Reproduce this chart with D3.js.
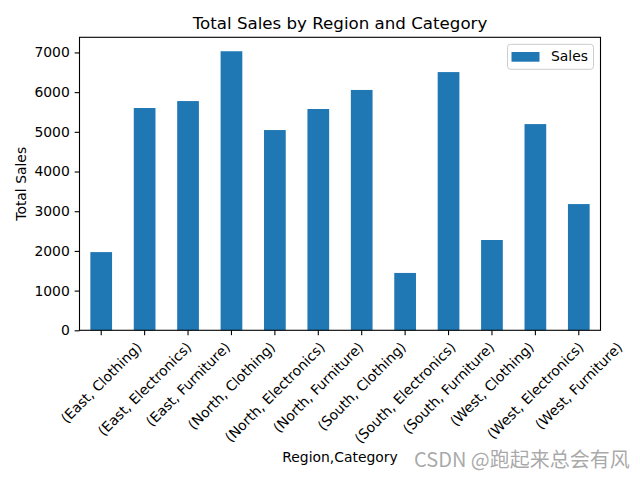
<!DOCTYPE html>
<html>
<head>
<meta charset="utf-8">
<script src="https://cdn.jsdelivr.net/npm/d3@7"></script>
<style>
	body { margin: 0; background: #fff; }
	svg { display: block; }
</style>
</head>
<body>
<script>
var regions = ["East", "East", "East", "North", "North", "North", "South", "South", "South", "West", "West", "West"];
var categories = ["Clothing", "Electronics", "Furniture", "Clothing", "Electronics", "Furniture", "Clothing", "Electronics", "Furniture", "Clothing", "Electronics", "Furniture"];
var sales = [1970, 5600, 5775, 7030, 5045, 5575, 6055, 1445, 6505, 2275, 5195, 3180];
var yTicks = [0, 1000, 2000, 3000, 4000, 5000, 6000, 7000];

var width = 640,
	height = 480,
	axLeft = 79.5,
	axRight = 600.5,
	axTop = 37.3,
	axBottom = 330.3,
	font = "DejaVu Sans, sans-serif",
	tickFont = 13.9,
	tickLen = 4.86,
	tickPad = 4.86,
	barColor = "#1f77b4";

var labels = regions.map(function (r, i) { return "(" + r + ", " + categories[i] + ")"; });

var svg = d3.select("body").append("svg")
	.attr("width", width)
	.attr("height", height)
	.attr("font-family", font);

var x = d3.scaleBand()
	.domain(labels)
	.range([axLeft, axRight])
	.paddingInner(0.5)
	.paddingOuter(0.25);

var y = d3.scaleLinear()
	.domain([0, d3.max(sales) * 1.05])
	.range([axBottom, axTop]);

// bars
svg.append("g")
	.selectAll("rect")
	.data(sales)
	.enter()
	.append("rect")
	.attr("x", function (d, i) { return x(labels[i]); })
	.attr("y", function (d) { return y(d); })
	.attr("width", x.bandwidth())
	.attr("height", function (d) { return axBottom - y(d); })
	.attr("fill", barColor);

// y axis
var yAxis = svg.append("g")
	.attr("transform", "translate(" + axLeft + ",0)")
	.call(d3.axisLeft(y).tickValues(yTicks).tickSize(tickLen).tickPadding(tickPad).tickFormat(d3.format("d")));
yAxis.select(".domain").remove();
yAxis.selectAll("line").attr("stroke", "#000").attr("stroke-width", 1.1);
yAxis.selectAll("text")
	.attr("font-family", font)
	.attr("font-size", tickFont)
	.attr("fill", "#000");

// x axis
var xAxis = svg.append("g")
	.attr("transform", "translate(0," + axBottom + ")")
	.call(d3.axisBottom(x).tickSize(tickLen).tickFormat(""));
xAxis.select(".domain").remove();
xAxis.selectAll("line").attr("stroke", "#000").attr("stroke-width", 1.1);

// rotated tick labels, bbox centred under the tick like matplotlib
var labelTop = axBottom + tickLen + tickPad - 1;
var textH = tickFont * 1.164;
svg.append("g")
	.selectAll("text")
	.data(labels)
	.enter()
	.append("text")
	.text(function (d) { return d; })
	.attr("font-size", tickFont)
	.attr("text-anchor", "middle")
	.attr("dy", "0.346em")
	.attr("transform", function (d) {
		var len = this.getComputedTextLength();
		var boxH = (len + textH) * Math.SQRT1_2;
		var cx = x(d) + x.bandwidth() / 2;
		return "translate(" + cx + "," + (labelTop + boxH / 2) + ") rotate(-45)";
	});

// spines
svg.append("rect")
	.attr("x", axLeft)
	.attr("y", axTop)
	.attr("width", axRight - axLeft)
	.attr("height", axBottom - axTop)
	.attr("fill", "none")
	.attr("stroke", "#000")
	.attr("stroke-width", 1.1);

// title
svg.append("text")
	.text("Total Sales by Region and Category")
	.attr("x", (axLeft + axRight) / 2)
	.attr("y", axTop - 8.3)
	.attr("text-anchor", "middle")
	.attr("font-size", 16.67);

// axis labels
svg.append("text")
	.text("Region,Category")
	.attr("x", (axLeft + axRight) / 2)
	.attr("y", 462)
	.attr("text-anchor", "middle")
	.attr("font-size", tickFont);

svg.append("text")
	.text("Total Sales")
	.attr("transform", "translate(25.5," + ((axTop + axBottom) / 2) + ") rotate(-90)")
	.attr("text-anchor", "middle")
	.attr("font-size", tickFont);

// legend
var legend = svg.append("g")
	.attr("transform", "translate(" + (axRight - 7 - 86) + "," + (axTop + 7) + ")");
legend.append("rect")
	.attr("width", 86)
	.attr("height", 25)
	.attr("rx", 3)
	.attr("fill", "#fff")
	.attr("fill-opacity", 0.8)
	.attr("stroke", "#cccccc")
	.attr("stroke-width", 1);
legend.append("rect")
	.attr("x", 4)
	.attr("y", 7.7)
	.attr("width", 28)
	.attr("height", 9.7)
	.attr("fill", barColor);
legend.append("text")
	.text("Sales")
	.attr("x", 43.5)
	.attr("y", 17)
	.attr("font-size", tickFont);

// watermark
svg.append("text")
	.text("CSDN @跑起来总会有风")
	.attr("x", 414)
	.attr("y", 467)
	.attr("font-family", "'Noto Sans CJK SC', sans-serif")
	.attr("font-size", 20)
	.attr("fill", "#9a9a9a")
	.attr("fill-opacity", 0.85);
</script>
</body>
</html>
